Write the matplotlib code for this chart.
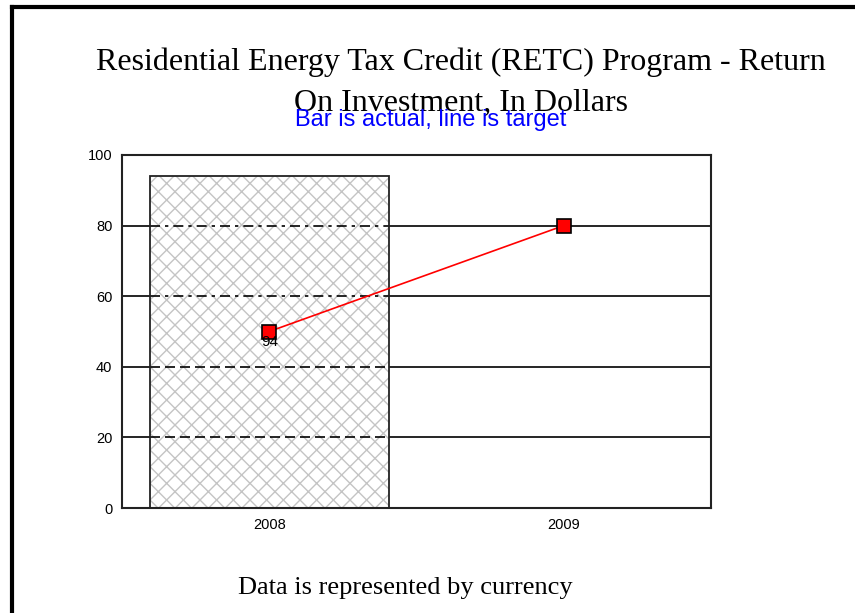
import matplotlib.pyplot as plt
from matplotlib.lines import Line2D

# Dữ liệu
years = ["2008", "2009"]
actual = [94]
target = [50, 80]
y_ticks = [0, 20, 40, 60, 80, 100]

fig = plt.figure(figsize=(8.55, 6.13), dpi=100)

# khung ngoài (chỉ cạnh trái và cạnh trên)
fig.add_artist(Line2D([12 / 855, 12 / 855], [0, 1 - 7 / 613], color="black", lw=3))
fig.add_artist(Line2D([12 / 855, 1], [1 - 7 / 613, 1 - 7 / 613], color="black", lw=3))

ax = fig.add_axes([122 / 855, 1 - 508 / 613, (711 - 122) / 855, (508 - 155) / 613])
x = list(range(len(years)))

# lưới ngang
for v in y_ticks[1:-1]:
    ax.axhline(v, color="black", lw=1.2, zorder=1)

plt.rcParams["hatch.linewidth"] = 1.0
# nền + hoa văn xám, sau đó viền đen riêng
ax.bar(x[:len(actual)], actual, width=0.81, color="white", edgecolor="#c4c4c4",
       hatch="xx", lw=0, zorder=2)
ax.bar(x[:len(actual)], actual, width=0.81, color="none", edgecolor="#222222",
       lw=1.3, zorder=3.5)

# lưới nét đứt phía trên cột
bar_l, bar_r = -0.405, 0.405
for v in y_ticks[1:-1]:
    ls = (0, (6, 3, 2, 3)) if v >= 60 else (0, (6, 3))
    ax.plot([bar_l, bar_r], [v, v], color="black", lw=1.2, ls=ls, zorder=3)

ax.plot(x, target, color="red", lw=1.2, marker="s", markersize=10,
        markerfacecolor="red", markeredgecolor="black", markeredgewidth=1.2, zorder=4)

for i, v in enumerate(actual):
    ax.text(x[i], target[i] - 1.0, str(v), ha="center", va="top", fontsize=11,
            family="Liberation Sans", zorder=5)

ax.set_xlim(-0.5, 1.5)
ax.set_ylim(0, 100)
ax.set_xticks(x)
ax.set_xticklabels(years, family="Liberation Sans", fontsize=10.5)
ax.set_yticks(y_ticks)
ax.set_yticklabels([str(v) for v in y_ticks], family="Liberation Sans", fontsize=10.5)
ax.tick_params(length=0, pad=7)
for s in ax.spines.values():
    s.set_linewidth(1.5)
    s.set_color("#222222")

fig.text(461 / 855, 1 - 62 / 613, "Residential Energy Tax Credit (RETC) Program - Return",
         ha="center", va="center", fontsize=23, family="Liberation Serif")
fig.text(461 / 855, 1 - 103 / 613, "On Investment, In Dollars",
         ha="center", va="center", fontsize=23, family="Liberation Serif")
fig.text(431 / 855, 1 - 120 / 613, "Bar is actual, line is target",
         ha="center", va="center", fontsize=17, color="blue", family="Liberation Sans")
fig.text(405 / 855, 1 - 588 / 613, "Data is represented by currency",
         ha="center", va="center", fontsize=19, family="Liberation Serif")

fig.savefig("out.png", dpi=100)
